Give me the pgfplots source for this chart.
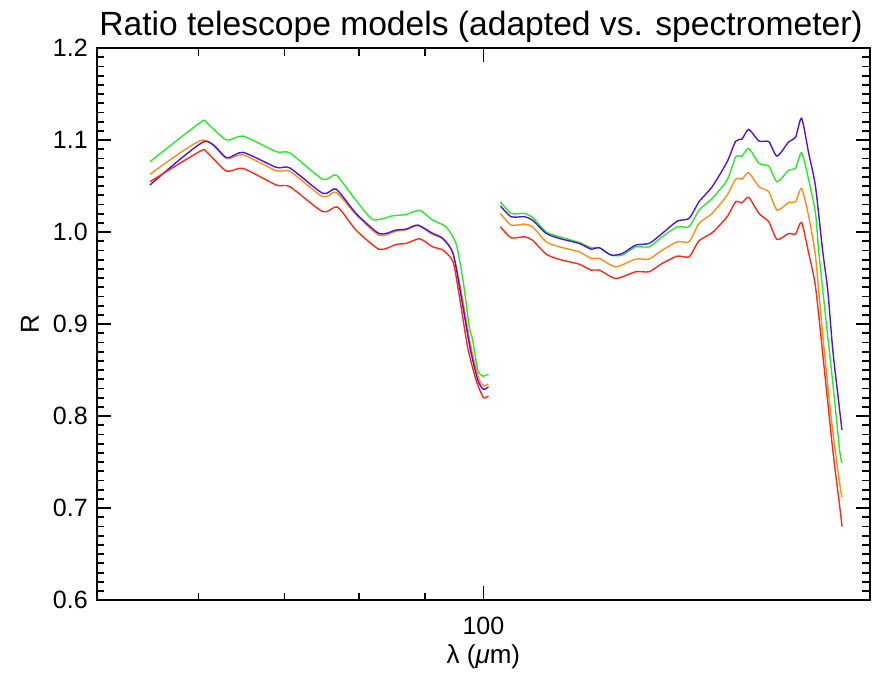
\documentclass[border=0pt]{standalone}
\usepackage{fontspec}
\setmainfont{Liberation Sans}
\usepackage{pgfplots}
\pgfplotsset{compat=1.18}
\definecolor{cblue}{RGB}{80,20,225}
\definecolor{cgreen}{RGB}{40,235,40}
\definecolor{corange}{RGB}{255,140,20}
\definecolor{cred}{RGB}{255,40,20}
\begin{document}
\begin{tikzpicture}
\path[use as bounding box] (-48.35pt,-37.5pt) rectangle (390pt,300pt);
\begin{axis}[
  name=ax,
  at={(0,0)}, anchor=south west,
  scale only axis,
  width=386.5pt, height=276pt,
  xmode=log,
  xmin=50, xmax=200,
  ymin=0.6, ymax=1.2,
  xtick={100}, xticklabels={100},
  minor xtick={60,70,80,90},
  ytick={0.6,0.7,0.8,0.9,1.0,1.1,1.2},
  yticklabels={0.6,0.7,0.8,0.9,1.0,1.1,1.2},
  minor y tick num=9,
  tick align=inside,
  major tick length=7pt,
  minor tick length=3.8pt,
  tick style={line width=0.9pt, black},
  axis line style={line width=1.1pt},
  /pgf/number format/assume math mode=true,
  ticklabel style={font=\fontsize{12.5}{14}\selectfont},
  yticklabel style={xshift=-1pt},
  xticklabel style={yshift=-5pt},
  every axis title shift=0pt,
  title={Ratio telescope models (adapted vs. spectrometer)},
  title style={font=\fontsize{16.8}{19}\selectfont, at={(axis description cs:0.497,1.038)}, anchor=center},
  xlabel={λ (\textit{μ}m)},
  xlabel style={font=\fontsize{13}{15}\selectfont, at={(axis description cs:0.5,-0.103)}, anchor=center},
  ylabel={R},
  ylabel style={font=\fontsize{13}{15}\selectfont, at={(axis description cs:-0.0863,0.5)}, anchor=center},
  every axis plot/.append style={line width=0.7pt, smooth, tension=0.4},
  clip=false,
]
% ---- short-wavelength part ----
\addplot[cgreen] coordinates {
(55.0,1.0764) (60.2,1.1192) (60.9,1.1188) (63.1,1.1000) (65.0,1.1043) (69.0,1.0873)
(70.7,1.0859) (75.0,1.0573) (76.8,1.0620) (79.2,1.0384) (82.0,1.0138) (85.0,1.0177)
(87.1,1.0192) (89.2,1.0236) (91.3,1.0130) (93.5,1.0058) (95.2,0.9877) (96.4,0.948)
(97.5,0.897) (98.1,0.8826) (99.0,0.8500) (99.9,0.8435) (100.9,0.8457)};
\addplot[corange] coordinates {
(55.0,1.0627) (60.4,1.1000) (63.1,1.0801) (65.0,1.0840) (69.0,1.0666) (70.7,1.0660)
(75.0,1.0384) (76.8,1.0432) (79.6,1.0190) (83.0,0.9964) (85.5,1.0010) (87.1,1.0025)
(88.9,1.0070) (91.3,0.9975) (93.0,0.9925) (94.7,0.9770) (96.2,0.932) (97.7,0.878)
(99.1,0.842) (100.0,0.8330) (100.9,0.8348)};
\addplot[cblue] coordinates {
(55.0,1.0511) (60.6,1.0982) (63.1,1.0808) (65.0,1.0866) (69.0,1.0703) (70.7,1.0696)
(75.0,1.0420) (76.8,1.0467) (79.6,1.0203) (83.0,0.9982) (85.5,1.0022) (87.1,1.0033)
(88.9,1.0076) (91.3,0.9986) (93.0,0.9931) (94.7,0.9768) (96.1,0.9297) (97.6,0.8753)
(99.0,0.839) (100.0,0.8293) (100.9,0.8318)};
\addplot[cred] coordinates {
(55.0,1.0547) (60.2,1.0880) (60.9,1.0870) (63.1,1.0663) (65.0,1.0692) (69.0,1.0511)
(70.7,1.0493) (75.0,1.0221) (77.0,1.0272) (79.6,1.0022) (83.0,0.9812) (85.5,0.9866)
(87.1,0.9877) (89.2,0.9927) (91.3,0.9840) (93.0,0.9804) (94.7,0.9677) (95.8,0.9297)
(97.2,0.8753) (98.7,0.8390) (100.0,0.8203) (100.9,0.8220)};
% ---- long-wavelength part ----
\addplot[cgreen] coordinates {
(103.1,1.0330) (105.1,1.0203) (107.6,1.0203) (109.2,1.0160) (111.9,1.0003) (114.6,0.9949)
(118.7,0.9888) (121.3,0.9830) (123.1,0.9830) (125.7,0.9750) (128.3,0.9750) (131.4,0.9840)
(134.6,0.9840) (137.8,0.9949) (141.6,1.0058) (144.6,1.0058) (147.2,1.0239) (150.7,1.0366)
(154.8,1.0565) (157.2,1.0818) (159.0,1.0826) (160.9,1.0910) (163.9,1.0747) (166.8,1.0717)
(169.3,1.0547) (172.9,1.0674) (175.0,1.0692) (176.9,1.0862) (179.2,1.0565) (181.4,1.0203)
(182.4,0.98) (184.7,0.908) (187.1,0.836) (189.4,0.763) (190.2,0.749)};
\addplot[corange] coordinates {
(103.1,1.0203) (105.1,1.0076) (107.6,1.0087) (109.2,1.0058) (111.9,0.9895) (114.6,0.9840)
(118.7,0.9786) (121.3,0.9714) (123.1,0.9714) (126.8,0.9623) (131.4,0.9707) (134.6,0.9707)
(137.8,0.9804) (141.6,0.9895) (144.6,0.9895) (147.2,1.0095) (150.7,1.0203) (154.8,1.0402)
(157.2,1.0576) (159.0,1.0576) (160.9,1.0645) (163.9,1.0493) (166.8,1.0438) (169.3,1.0239)
(172.9,1.0323) (175.0,1.0330) (176.9,1.0475) (179.2,1.0167) (181.4,0.9732) (183.7,0.89)
(186.5,0.7993) (189.4,0.727) (190.2,0.712)};
\addplot[cblue] coordinates {
(103.1,1.0283) (105.1,1.0167) (107.6,1.0167) (109.2,1.0130) (111.9,0.9986) (114.6,0.9931)
(118.7,0.9877) (121.3,0.9815) (123.1,0.9830) (125.7,0.9750) (128.3,0.9768) (131.4,0.9859)
(134.6,0.9877) (137.8,0.9986) (141.6,1.0120) (144.6,1.0149) (147.2,1.0330) (150.7,1.0493)
(154.8,1.0764) (157.2,1.0989) (159.0,1.1011) (160.9,1.1116) (163.9,1.0989) (166.8,1.0982)
(169.3,1.0826) (172.9,1.0982) (175.0,1.1029) (176.9,1.1236) (179.2,1.0855) (181.4,1.0493)
(183.7,0.9804) (185.4,0.937) (187.1,0.8717) (189.4,0.8065) (190.2,0.785)};
\addplot[cred] coordinates {
(103.1,1.0058) (105.1,0.9938) (107.6,0.9949) (109.2,0.9913) (111.9,0.9761) (114.6,0.9703)
(118.7,0.9652) (121.3,0.9587) (123.1,0.9587) (126.8,0.9496) (131.4,0.9569) (134.6,0.9569)
(137.8,0.9660) (141.6,0.9739) (144.6,0.9732) (147.2,0.9906) (150.7,0.9993) (154.8,1.0167)
(157.2,1.0330) (159.0,1.0319) (160.9,1.0377) (163.9,1.0203) (166.8,1.0112) (169.3,0.9920)
(172.9,0.9986) (175.0,0.9978) (176.9,1.0105) (179.2,0.9768) (181.4,0.9406) (184.2,0.8536)
(187.1,0.763) (189.7,0.695) (190.2,0.680)};
\end{axis}
\end{tikzpicture}
\end{document}
